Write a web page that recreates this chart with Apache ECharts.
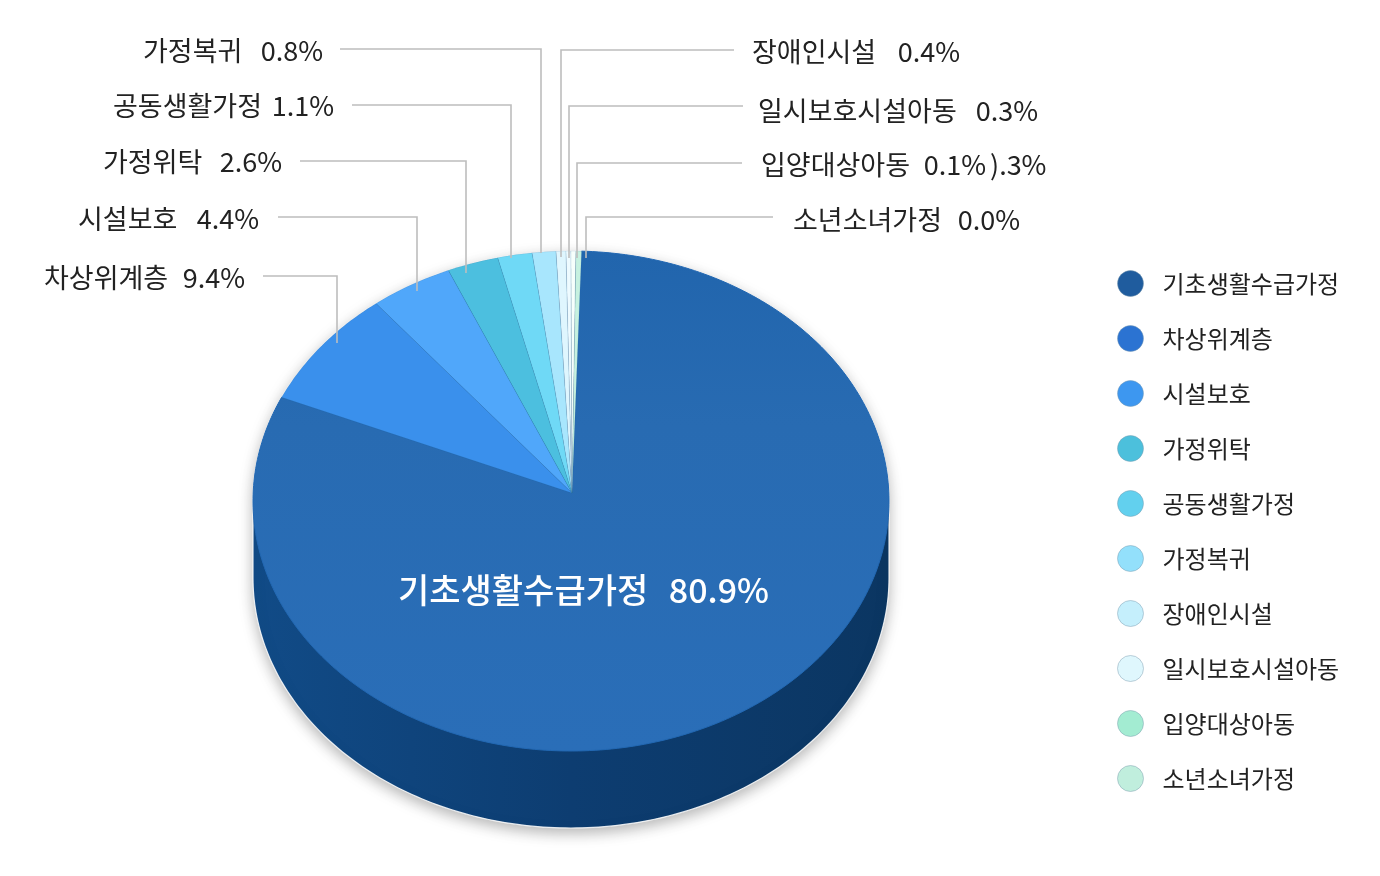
<!DOCTYPE html>
<html><head><meta charset="utf-8">
<style>html,body{margin:0;padding:0;background:#fff}#c{width:1380px;height:876px}</style>
<script src="https://cdn.jsdelivr.net/npm/echarts@6/dist/echarts.min.js"></script>
</head><body><div id="c"></div>
<script>
// Values and names as printed on the picture
const categories = ['기초생활수급가정','차상위계층','시설보호','가정위탁','공동생활가정','가정복귀','장애인시설','일시보호시설아동','입양대상아동','소년소녀가정'];
const printedPercent = [80.9, 9.4, 4.4, 2.6, 1.1, 0.8, 0.4, 0.3, 0.1, 0.0];
// The reference's wedges are not exactly proportional to its printed figures: these are the arc shares
const arcShares = [81.3, 7.7, 4.2, 2.6, 1.75, 1.2, 0.5, 0.25, 0.25, 0.28];
const sliceColors = ['#2a6cb5','#3a90ec','#50a7fa','#4cbfdf','#6fd9f6','#a8e6fd','#dff6fe','#eefbff','#f6fffc','#c6f1e0'];
const legendColors = ['#1f5c9e','#2b73d2','#3d97f0','#4cc0dc','#62d0ee','#93e0fb','#c5effc','#dff7fd','#a3ecd2','#c0eedd'];
const strayText = ').3%';

const geo = {cx:571, cy:501, rx:318, ry:250, depth:77, apexX:572, apexY:493, startDeg:1.9};
// [name left x, value right x, text centre y, leader: start x, y, corner x, tip y]
const callouts = [
  [398,769,590,null],
  [44,245,278,[263,276,337,343]],
  [78,259,219,[278,217,417,291]],
  [103,282,162,[300,161,466,273]],
  [113,334,106,[352,105,511,258]],
  [143,323,51,[340,49,541,253]],
  [752,960,52,[734,50,561,257]],
  [758,1038,111,[743,106,569,258]],
  [761,986,165,[742,163,577,258]],
  [793,1020,220,[773,217,586,258]]
];
const FONT = '"Noto Sans CJK KR","Noto Sans",sans-serif';
const total = arcShares.reduce((a,b)=>a+b,0);
const rim = (deg,dy=0)=>{const t=deg*Math.PI/180;return [geo.cx+geo.rx*Math.sin(t),geo.cy+dy-geo.ry*Math.cos(t)];};

function renderSlice(i){
  return function(params,api){
    const share = api.value(1);
    let before = 0; for(let k=0;k<i;k++) before += arcShares[k];
    const a0 = geo.startDeg + before/total*360, a1 = a0 + share/total*360;
    const pts=[[geo.apexX,geo.apexY]];
    const n=Math.max(2,Math.ceil(a1-a0));
    for(let k=0;k<=n;k++) pts.push(rim(a0+(a1-a0)*k/n));
    const children=[];
    if(i===0){
      const hull=[];
      for(let d=-90;d<=90;d++) hull.push(rim(d));
      for(let d=90;d<=270;d++) hull.push(rim(d,geo.depth));
      children.push({type:'polygon',z2:1,shape:{points:hull},style:{
        fill:{type:'linear',x:0,y:0,x2:1,y2:0,colorStops:[{offset:0,color:'#114b87'},{offset:.5,color:'#0d3d71'},{offset:1,color:'#0b3662'}]},
        stroke:'rgba(255,255,255,.85)',lineWidth:1.2,
        shadowBlur:14,shadowColor:'rgba(0,0,0,.28)',shadowOffsetY:5}});
    }
    children.push({type:'polygon',z2:2+i,shape:{points:pts},style:{
      fill:i===0?{type:'linear',x:0,y:0,x2:0,y2:1,colorStops:[{offset:0,color:'#2165ad'},{offset:.35,color:'#286bb2'},{offset:1,color:'#2a6eb8'}]}:sliceColors[i],
      stroke:i===0?'#2268b3':'rgba(50,110,150,.12)',lineWidth:1}});
    const c=callouts[i];
    if(c[3]){
      const [sx,sy,cx,ty]=c[3];
      children.push({type:'polyline',z2:30,shape:{points:[[sx,sy],[cx,sy],[cx,ty]]},style:{fill:null,stroke:'#bdbdbd',lineWidth:1.6}});
    }
    const font=(i===0?'500 34px ':'27px ')+FONT, fill=i===0?'#fff':'#222';
    children.push({type:'text',z2:40,style:{x:c[0],y:c[2],text:categories[i],fill,font,textAlign:'left',textVerticalAlign:'middle'}});
    children.push({type:'text',z2:40,style:{x:c[1],y:c[2],text:api.value(0).toFixed(1)+'%',fill,font,textAlign:'right',textVerticalAlign:'middle'}});
    if(i===8) children.push({type:'text',z2:40,style:{x:990,y:c[2],text:strayText,fill,font,textAlign:'left',textVerticalAlign:'middle'}});
    return {type:'group',children};
  };
}

const chart = echarts.init(document.getElementById('c'),null,{renderer:'canvas'});
chart.setOption({
  animation:false,
  backgroundColor:'#ffffff',
  legend:{orient:'vertical',left:1112,top:265,itemWidth:26,itemHeight:26,itemGap:28,icon:'circle',
    data:categories,selectedMode:false,
    textStyle:{fontFamily:FONT,fontSize:24,color:'#222',padding:[0,0,0,14]},
    itemStyle:{borderColor:'rgba(120,150,170,.45)',borderWidth:1}},
  series:categories.map((name,i)=>({
    type:'custom',name,coordinateSystem:'none',silent:true,
    itemStyle:{color:legendColors[i]},
    data:[[printedPercent[i],arcShares[i]]],
    renderItem:renderSlice(i)
  }))
});
</script></body></html>
